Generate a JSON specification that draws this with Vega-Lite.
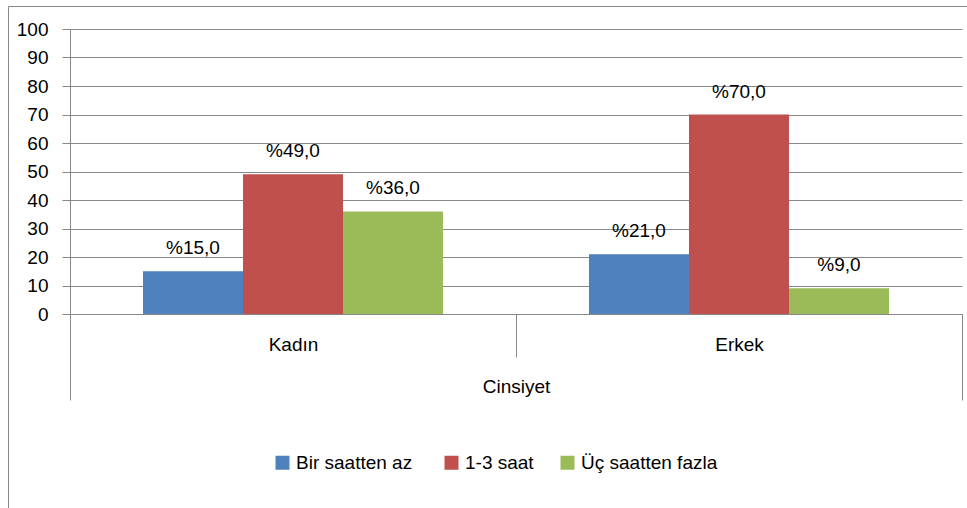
{
  "$schema": "https://vega.github.io/schema/vega-lite/v6.json",
  "width": 892,
  "height": 285,
  "autosize": "none",
  "padding": {"left": 70, "top": 29, "right": 5, "bottom": 194},
  "data": {
    "values": [
      {"g": "Kadın", "s": "Bir saatten  az", "v": 15},
      {"g": "Kadın", "s": "1-3 saat", "v": 49},
      {"g": "Kadın", "s": "Üç saatten  fazla", "v": 36},
      {"g": "Erkek", "s": "Bir saatten  az", "v": 21},
      {"g": "Erkek", "s": "1-3 saat", "v": 70},
      {"g": "Erkek", "s": "Üç saatten  fazla", "v": 9}
    ]
  },
  "config": {
    "font": "Liberation Sans",
    "view": {"stroke": null},
    "locale": {"number": {"decimal": ",", "thousands": ".", "grouping": [3], "currency": ["%", ""]}},
    "axis": {"labelFont": "Liberation Sans", "titleFont": "Liberation Sans", "labelColor": "#000", "titleColor": "#000", "labelFontSize": 19, "titleFontSize": 19, "titleFontWeight": "normal", "domainColor": "#888", "tickColor": "#888", "gridColor": "#888"},
    "legend": {"labelFont": "Liberation Sans", "labelFontSize": 19, "labelColor": "#000"}
  },
  "encoding": {
    "x": {
      "field": "g", "type": "nominal", "sort": ["Kadın", "Erkek"], "title": "Cinsiyet",
      "scale": {"paddingInner": 0, "paddingOuter": 0},
      "axis": {
        "labelAngle": 0,
        "tickBand": "extent",
        "tickSize": {"condition": {"test": "datum.value === 'Kadın'", "value": 43}, "value": 86},
        "labelBaseline": "alphabetic",
        "labelPadding": {"condition": {"test": "datum.value === 'Kadın'", "value": -7}, "value": -50},
        "titleY": 78,
        "titleBaseline": "alphabetic",
        "grid": false
      }
    },
    "xOffset": {"field": "s", "type": "nominal", "sort": ["Bir saatten  az", "1-3 saat", "Üç saatten  fazla"], "scale": {"paddingInner": 0, "paddingOuter": 0.73}},
    "y": {
      "field": "v", "type": "quantitative", "title": null,
      "scale": {"domain": [0, 100], "nice": false},
      "axis": {"values": [0, 10, 20, 30, 40, 50, 60, 70, 80, 90, 100], "tickSize": 8, "labelPadding": 14, "grid": true, "labelBaseline": "middle"}
    }
  },
  "layer": [
    {
      "mark": {"type": "bar"},
      "encoding": {
        "color": {
          "field": "s", "type": "nominal", "sort": ["Bir saatten  az", "1-3 saat", "Üç saatten  fazla"],
          "scale": {"range": ["#4F81BD", "#C0504D", "#9BBB59"]},
          "legend": {"title": null, "orient": "none", "legendX": 203, "legendY": 424, "direction": "horizontal", "symbolType": "square", "symbolSize": 196, "symbolStrokeWidth": 0, "symbolOpacity": 1, "labelOffset": 4, "columnPadding": 24, "padding": 0}
        }
      }
    },
    {
      "mark": {"type": "text", "baseline": "alphabetic", "dy": -17, "fontSize": 19, "color": "#000"},
      "encoding": {
        "text": {"field": "v", "type": "quantitative", "format": "$.1f"},
        "opacity": {
          "datum": "frame", "type": "ordinal",
          "scale": {"range": [1, 1]},
          "legend": {"title": null, "orient": "none", "legendX": -62, "legendY": -23, "padding": 650, "strokeColor": "#888", "fillColor": null, "labelExpr": "''", "symbolOpacity": 0, "symbolSize": 1, "labelFontSize": 1}
        }
      }
    }
  ]
}
